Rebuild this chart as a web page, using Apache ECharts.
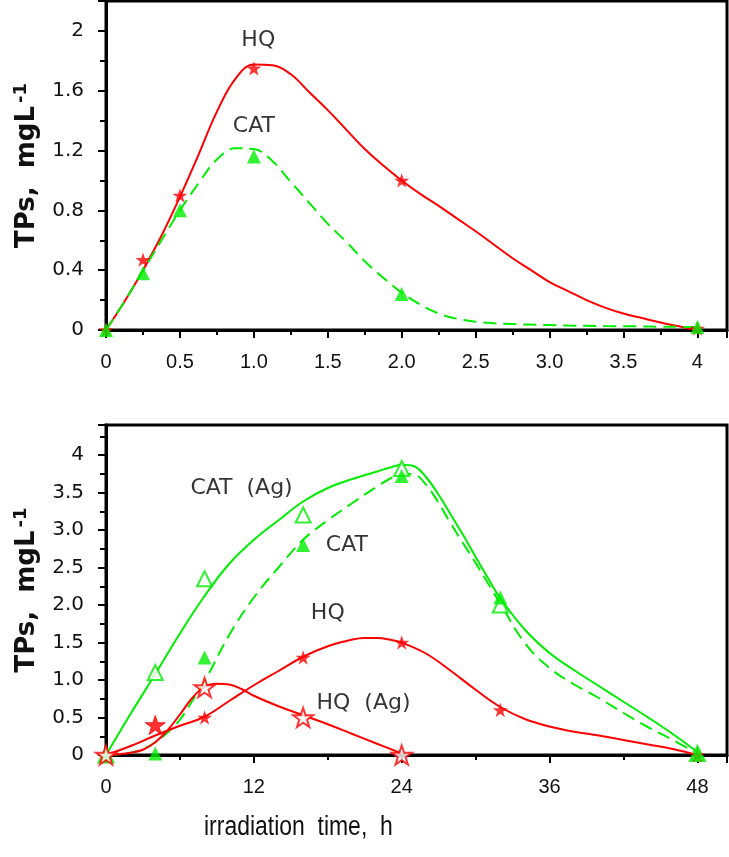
<!DOCTYPE html>
<html>
<head>
<meta charset="utf-8">
<script src="https://cdn.jsdelivr.net/npm/echarts@6/dist/echarts.min.js"></script>
<style>
html,body{margin:0;padding:0;background:#fff;}
#c{width:729px;height:857px;}
</style>
</head>
<body>
<div id="c"></div>
<script>
// ---------- DATA ----------
// Top panel: measured points
var topX = [0, 0.25, 0.5, 1.0, 2.0, 4.0];
var topHQ = [0, 0.47, 0.9, 1.75, 1.0, 0.01];
var topCAT = [0, 0.38, 0.8, 1.16, 0.24, 0.02];
// Top panel: fitted curves (traced every 0.125 h)
var topCurveX = [0, 0.125, 0.25, 0.375, 0.5, 0.625, 0.75, 0.875, 1.0, 1.125, 1.25, 1.375, 1.5, 1.625, 1.75, 1.875,
                 2.0, 2.125, 2.25, 2.375, 2.5, 2.625, 2.75, 2.875, 3.0, 3.125, 3.25, 3.375, 3.5, 3.625, 3.75, 3.875, 4.0];
var topHQCurve = [0, 0.19, 0.4, 0.63, 0.89, 1.17, 1.46, 1.68, 1.775, 1.77, 1.71, 1.59, 1.47, 1.34, 1.21, 1.1,
                  1.0, 0.91, 0.83, 0.745, 0.66, 0.57, 0.48, 0.4, 0.32, 0.26, 0.2, 0.15, 0.11, 0.08, 0.05, 0.025, 0.0];
var topCATCurve = [0, 0.19, 0.395, 0.6, 0.8, 0.98, 1.14, 1.215, 1.21, 1.13, 0.99, 0.85, 0.71, 0.59, 0.46, 0.35,
                   0.25, 0.17, 0.11, 0.075, 0.055, 0.045, 0.04, 0.036, 0.033, 0.03, 0.028, 0.026, 0.025, 0.024, 0.022, 0.021, 0.02];

// Bottom panel: measured points
var botCatAgX = [0, 4, 8, 16, 24, 32, 48];
var botCatAgY = [0, 1.1, 2.35, 3.2, 3.82, 2.0, 0.02];
var botCatX = [0, 4, 8, 16, 24, 32, 48];
var botCatY = [0, 0.02, 1.3, 2.8, 3.72, 2.1, 0.02];
var botHQX = [0, 8, 16, 24, 32, 48];
var botHQY = [0, 0.5, 1.3, 1.5, 0.6, 0];
var botHQAgX = [0, 4, 8, 16, 24];
var botHQAgY = [0, 0.4, 0.9, 0.5, 0.0];
// Bottom panel: fitted curves (traced)
var cCatAgX = [0, 2, 4, 6, 8, 10, 12, 14, 16, 18, 20, 22, 23, 24, 25, 26, 27, 28, 29, 30, 31, 32, 34, 36, 38, 40, 42, 44, 46, 48];
var cCatAg  = [0, 0.55, 1.08, 1.62, 2.12, 2.55, 2.87, 3.13, 3.38, 3.56, 3.68, 3.78, 3.83, 3.87, 3.85, 3.7, 3.47, 3.2, 2.93, 2.64, 2.36, 2.09, 1.67, 1.36, 1.13, 0.92, 0.71, 0.5, 0.28, 0.04];
var cCatX = [0, 2, 3, 4, 5, 6, 7, 8, 10, 12, 14, 16, 18, 20, 22, 23, 24, 25, 26, 27, 28, 29, 30, 31, 32, 34, 36, 38, 40, 42, 44, 46, 48];
var cCat  = [0, 0.03, 0.08, 0.17, 0.3, 0.47, 0.72, 0.98, 1.6, 2.1, 2.5, 2.87, 3.13, 3.36, 3.58, 3.68, 3.75, 3.74, 3.6, 3.36, 3.08, 2.82, 2.56, 2.29, 2.02, 1.49, 1.16, 0.94, 0.76, 0.56, 0.37, 0.2, 0.02];
var cHQX = [0, 2, 4, 6, 8, 10, 12, 14, 16, 18, 20, 21, 22, 23, 24, 26, 28, 30, 32, 34, 36, 38, 40, 42, 44, 46, 48];
var cHQ  = [0, 0.12, 0.26, 0.39, 0.51, 0.72, 0.93, 1.12, 1.31, 1.45, 1.54, 1.56, 1.56, 1.54, 1.5, 1.35, 1.12, 0.87, 0.64, 0.48, 0.38, 0.31, 0.26, 0.2, 0.14, 0.08, 0];
var cHQAgX = [0, 1, 2, 3, 4, 5, 6, 7, 8, 9, 10, 11, 12, 14, 16, 18, 20, 22, 24];
var cHQAg  = [0, 0.01, 0.03, 0.07, 0.17, 0.33, 0.54, 0.76, 0.91, 0.95, 0.94, 0.88, 0.79, 0.65, 0.53, 0.41, 0.28, 0.15, 0.02];

// Curve annotations [text, x, y] in data units
var topNotes = [['HQ', 1.03, 1.94], ['CAT', 1.0, 1.36]];
var botNotes = [['CAT  (Ag)', 11.0, 3.55], ['CAT', 19.55, 2.8], ['HQ', 18.0, 1.89], ['HQ  (Ag)', 20.9, 0.69]];

// Axis texts
var yTitle = '{n|TPs,  mgL}{s|-1}';
var xTitle = 'irradiation  time,  h';

// ---------- CHART ----------
function pairs(xs, ys) { return xs.map(function (x, i) { return [x, ys[i]]; }); }
var RED = '#ff0000', GREEN = '#00ee00';
var STAR = 'path://M50,0 L61.8,35.2 L98.9,35.5 L69.1,57.6 L80.2,93 L50,71.5 L19.8,93 L30.9,57.6 L1.1,35.5 L38.2,35.2 Z';
var XFONT = '"Liberation Sans",sans-serif';
var YFONT = '"DejaVu Sans",sans-serif';

// intLabels: values shown without a decimal
function fmt(iv, intLabels) {
  return function (v) {
    var k = Math.round(v / iv);
    if (Math.abs(k * iv - v) > 1e-6) return '';
    for (var i = 0; i < intLabels.length; i++) if (Math.abs(v - intLabels[i]) < 1e-9) return String(intLabels[i]);
    return v.toFixed(1);
  };
}

function xAxisDef(gi, max, iv, ints) {
  return {
    gridIndex: gi, type: 'value', min: 0, max: max, interval: iv,
    axisLine: { show: true, onZero: false, lineStyle: { color: '#000', width: 3 } },
    axisTick: { show: true, length: 8, lineStyle: { color: '#000', width: 2 } },
    minorTick: { show: true, splitNumber: 2, length: 5, lineStyle: { color: '#000', width: 2 } },
    splitLine: { show: false }, minorSplitLine: { show: false },
    axisLabel: { show: true, margin: 22, color: '#111', fontFamily: XFONT, fontSize: 20, formatter: fmt(iv, ints), showMaxLabel: false }
  };
}
function yAxisDef(gi, max, iv, ints) {
  return {
    gridIndex: gi, type: 'value', min: 0, max: max, interval: iv,
    axisLine: { show: true, onZero: false, lineStyle: { color: '#000', width: 3 } },
    axisTick: { show: true, length: 8, lineStyle: { color: '#000', width: 2 } },
    minorTick: { show: true, splitNumber: 2, length: 6, lineStyle: { color: '#000', width: 2 } },
    splitLine: { show: false }, minorSplitLine: { show: false },
    axisLabel: { show: true, margin: 22, color: '#111', fontFamily: YFONT, fontSize: 20, formatter: fmt(iv, ints), showMaxLabel: false },
    name: yTitle, nameLocation: 'middle', nameGap: 64, nameRotate: 90,
    nameTextStyle: {
      color: '#111',
      rich: {
        n: { fontFamily: YFONT, fontSize: 26, fontWeight: 'bold', color: '#111' },
        s: { fontFamily: YFONT, fontSize: 18, fontWeight: 'bold', color: '#111', verticalAlign: 'top', padding: [0, 0, 12, 3] }
      }
    }
  };
}

function curve(xi, xs, ys, color, dashed) {
  return {
    type: 'line', xAxisIndex: xi, yAxisIndex: xi, data: pairs(xs, ys), smooth: 0.4,
    showSymbol: false, symbol: 'none', z: 2,
    lineStyle: { color: color, width: 2, type: dashed ? [13, 7] : 'solid' }
  };
}
function marks(xi, xs, ys, symbol, size, color, open, z) {
  return {
    type: 'scatter', xAxisIndex: xi, yAxisIndex: xi, data: pairs(xs, ys),
    symbol: symbol, symbolSize: size, symbolKeepAspect: true, z: z || 3,
    itemStyle: open ? { color: '#fff', borderColor: color, borderWidth: 2 } : { color: color }
  };
}
function notes(xi, arr) {
  return {
    type: 'scatter', xAxisIndex: xi, yAxisIndex: xi, symbolSize: 0, z: 5, silent: true,
    data: arr.map(function (a) { return { name: a[0], value: [a[1], a[2]] }; }),
    label: { show: true, position: 'inside', formatter: '{b}', color: '#000', fontFamily: YFONT, fontSize: 22 }
  };
}

var hqAgSeries = marks(1, botHQAgX, botHQAgY, STAR, 20, RED, true, 4);
hqAgSeries.data = hqAgSeries.data.map(function (p, i) {
  return i === 1 ? { value: p, itemStyle: { color: RED, borderColor: RED, borderWidth: 1 } } : { value: p };
});

var option = {
  animation: false,
  backgroundColor: '#fff',
  grid: [
    { left: 106, top: 1, width: 621, height: 329, show: true, borderColor: '#000', borderWidth: 3, backgroundColor: 'transparent' },
    { left: 106, top: 425, width: 621, height: 330, show: true, borderColor: '#000', borderWidth: 3, backgroundColor: 'transparent' }
  ],
  xAxis: [xAxisDef(0, 4.2, 0.5, [0, 4]), xAxisDef(1, 50.4, 12, [0, 12, 24, 36, 48])],
  yAxis: [yAxisDef(0, 2.2, 0.4, [0, 2]), yAxisDef(1, 4.4, 0.5, [0, 4])],
  graphic: [{
    type: 'text', x: 204, y: 814, scaleX: 0.85, silent: true,
    style: { text: xTitle, fontFamily: '"Liberation Sans",sans-serif', fontSize: 27, fill: '#111', textVerticalAlign: 'top', textAlign: 'left' }
  }],
  series: [
    curve(0, topCurveX, topHQCurve, RED, false),
    curve(0, topCurveX, topCATCurve, GREEN, true),
    marks(0, topX, topHQ, STAR, 15, RED, false),
    marks(0, topX, topCAT, 'triangle', 14, GREEN, false, 4),
    notes(0, topNotes),

    curve(1, cCatAgX, cCatAg, GREEN, false),
    curve(1, cCatX, cCat, GREEN, true),
    curve(1, cHQX, cHQ, RED, false),
    curve(1, cHQAgX, cHQAg, RED, false),
    marks(1, botCatAgX, botCatAgY, 'triangle', 15, GREEN, true),
    marks(1, botCatX, botCatY, 'triangle', 14, GREEN, false, 4),
    marks(1, botHQX, botHQY, STAR, 15, RED, false),
    hqAgSeries,
    notes(1, botNotes)
  ]
};
var chart = echarts.init(document.getElementById('c'), null, { renderer: 'canvas' });
chart.setOption(option);
</script>
</body>
</html>
